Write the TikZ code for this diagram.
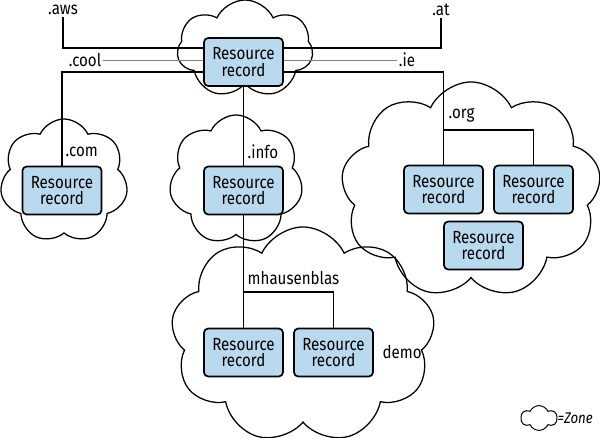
\documentclass[tikz,border=0pt]{standalone}
\usepackage{fontspec}
\setmainfont{Fira Sans}[FakeStretch=0.86]
\usetikzlibrary{shapes.symbols}

\definecolor{rrblue}{RGB}{185,217,238}
\tikzset{
    rrbox/.style={draw, line width=1.2pt, fill=rrblue, rounded corners=3pt,
        minimum width=1.975cm, minimum height=1.2cm, inner sep=0pt,
        align=center, font=\fontsize{12.5}{12}\selectfont},
    zone/.style={cloud, draw, line width=0.9pt, cloud puffs=#1,
        cloud puff arc=130, cloud ignores aspect, inner sep=0pt},
    zone/.default=7,
    lbl/.style={inner sep=1pt, font=\fontsize{12.5}{12}\selectfont},
    link/.style={line width=0.9pt},
    hint/.style={line width=0.4pt, gray},
}

\begin{document}
\begin{tikzpicture}[x=0.025cm, y=-0.025cm]
            \useasboundingbox (0,0) rectangle (600,437);
            % Zonen:
            \node[zone, minimum width=3.4cm, minimum height=2.45cm] (roots) at (245,49) {};
            \node[zone, minimum width=3.2cm, minimum height=3.1cm] (coms) at (64,181) {};
            \node[zone, minimum width=3.35cm, minimum height=3.25cm] (infos) at (236,180) {};
            \node[zone=9, minimum width=6.5cm, minimum height=5.4cm] (orgs) at (471,190) {};
            \node[zone=9, minimum width=6.6cm, minimum height=5.4cm] (demos) at (303,335) {};
            % Records:
            \node[rrbox] (top) at (243.5,62) {Resource\\record};
            \node[rrbox] (com) at (62,190.5) {Resource\\record};
            \node[rrbox] (info) at (243.5,190.5) {Resource\\record};
            \node[rrbox] (org1) at (443.5,189.5) {Resource\\record};
            \node[rrbox] (org2) at (533.5,189.5) {Resource\\record};
            \node[rrbox] (org3) at (483.5,245.5) {Resource\\record};
            \node[rrbox] (mh1) at (243.5,352.5) {Resource\\record};
            \node[rrbox] (mh2) at (333.5,352.5) {Resource\\record};
            % TLDs oben:
            \node[lbl] (aws) at (63,10) {.aws};
            \node[lbl] (at) at (441,10) {.at};
            \node[lbl] (cool) at (85,60) {.cool};
            \node[lbl] (ie) at (407,60) {.ie};
            \draw[link] (aws) |- ([yshift=0.35cm]top.west);
            \draw[link] (at) |- ([yshift=0.35cm]top.east);
            \draw[hint] (cool) -- (cool -| top.west);
            \draw[hint] (ie) -- (ie -| top.east);
            \draw[link] ([yshift=-0.25cm]top.west) -| (com.north);
            \draw[link] ([yshift=-0.25cm]top.east) -| (org1.north);
            \draw[link] (top) -- (info);
            \draw[link] (info) -- (mh1);
            % Verzweigungen:
            \coordinate (orgfork) at (443.5,130);
            \coordinate (mhfork) at (243.5,292);
            \draw[link] (orgfork) -| (org2.north);
            \draw[link] (mhfork) -| (mh2.north);
            % Beschriftungen:
            \node[lbl, anchor=west] (comlbl) at (64,152) {.com};
            \node[lbl, anchor=west] (infolbl) at (246,152) {.info};
            \node[lbl, anchor=west] (orglbl) at (447,115) {.org};
            \node[lbl, anchor=west] (mhlbl) at (246,278) {mhausenblas};
            \node[lbl, anchor=west] (demolbl) at (381,352) {demo};
            % Legende:
            \node[zone=6, line width=0.7pt, minimum width=0.9cm, minimum height=0.62cm] (legend) at (539,418) {};
            \node[lbl, anchor=west, inner sep=0pt, font=\fontsize{11}{11}\selectfont\itshape] (legendtxt) at (legend.east) {=Zone};
\end{tikzpicture}
\end{document}
